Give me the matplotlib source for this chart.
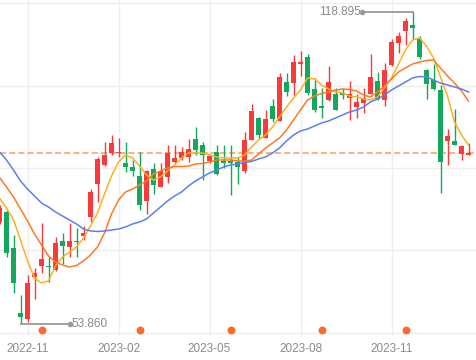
import numpy as np
import pandas as pd
from matplotlib import pyplot as plt

# weekly candles, the first one is the week of 2022-10-07
start_date = '2022-10-07'

opens = [75.11, 77.26, 69.63, 56.08, 54.83, 63.71, 65.94, 65.94, 65.10, 71.15,
         69.96, 71.09, 72.26, 76.22, 83.04, 87.00, 89.56, 89.44, 87.35, 86.64,
         84.70, 79.56, 86.10, 82.47, 84.56, 87.69, 88.39, 88.73, 92.36, 91.17,
         87.89, 89.77, 87.69, 87.77, 87.69, 85.75, 92.21, 96.73, 92.63, 99.24,
         96.23, 104.37, 104.10, 108.06, 109.45, 102.84, 99.30, 100.49, 101.86, 101.95,
         100.90, 99.19, 99.99, 101.80, 104.51, 100.55, 107.85, 112.50, 115.00, 116.19,
         113.21, 106.70, 104.72, 102.64, 92.07, 92.00, 89.27, 89.08]
closes = [78.03, 68.59, 62.46, 55.37, 62.33, 64.58, 67.34, 65.67, 70.80, 70.17,
          71.15, 70.94, 72.76, 81.43, 88.19, 89.08, 91.52, 89.77, 86.64, 85.75,
          78.66, 85.81, 82.83, 85.75, 89.44, 88.39, 89.77, 90.33, 90.17, 89.08,
          88.87, 85.12, 87.48, 87.48, 86.64, 92.21, 98.32, 93.15, 96.59, 96.53,
          105.28, 102.28, 108.37, 108.54, 101.95, 98.47, 98.82, 104.37, 98.47, 101.49,
          101.80, 100.20, 100.90, 105.41, 100.70, 106.80, 112.71, 113.90, 117.08, 115.50,
          109.45, 103.90, 102.78, 87.62, 93.04, 91.17, 90.96, 89.56]
highs = [78.66, 77.60, 72.40, 59.89, 64.06, 65.52, 74.97, 67.75, 71.92, 72.88,
         74.84, 73.80, 74.28, 82.00, 88.60, 91.86, 93.25, 92.56, 91.86, 88.04,
         89.77, 85.96, 87.48, 87.48, 91.17, 91.17, 90.81, 92.36, 94.98, 91.86,
         89.29, 91.17, 91.17, 91.17, 88.73, 93.88, 99.78, 97.07, 98.36, 100.70,
         106.24, 106.24, 109.93, 110.77, 110.08, 105.07, 103.05, 107.64, 103.00, 103.05,
         104.45, 101.90, 103.05, 110.04, 106.49, 108.27, 113.21, 114.79, 117.58, 118.895,
         113.90, 106.95, 108.06, 103.68, 94.40, 98.67, 91.17, 91.65]
lows = [74.70, 67.80, 60.37, 53.86, 54.33, 59.06, 64.42, 62.67, 64.96, 66.36,
        67.88, 67.88, 71.36, 75.18, 79.35, 86.79, 89.08, 88.73, 85.60, 84.70,
        77.62, 76.78, 80.95, 82.47, 83.18, 87.10, 88.04, 87.69, 89.08, 83.87,
        87.35, 84.91, 86.31, 80.74, 82.93, 85.27, 92.11, 92.42, 92.56, 95.86,
        96.17, 101.38, 101.49, 105.55, 101.59, 98.05, 96.73, 100.24, 98.36, 100.70,
        96.28, 96.80, 97.84, 101.80, 100.55, 99.30, 107.64, 110.41, 112.12, 113.21,
        109.04, 100.70, 102.64, 81.22, 87.00, 91.07, 88.04, 88.98]

ma5 = [80.12, 78.03, 75.53, 71.36, 66.98, 63.44, 62.39, 62.81, 65.94, 67.82,
       68.86, 69.90, 71.78, 74.28, 76.99, 80.95, 84.70, 87.62, 89.08, 88.46,
       86.79, 84.91, 83.87, 84.50, 85.75, 87.00, 88.46, 89.50, 89.50, 89.50,
       89.08, 88.67, 88.46, 88.46, 88.46, 89.08, 90.75, 92.21, 93.25, 94.92,
       97.01, 99.09, 100.97, 102.63, 105.14, 104.93, 103.68, 102.84, 102.22, 102.01,
       101.38, 101.18, 100.76, 100.55, 101.18, 103.05, 105.14, 108.06, 110.97, 113.06,
       113.48, 111.81, 109.31, 105.35, 101.38, 95.96, 93.25, 91.17]
ma10 = [84.39, 82.41, 80.33, 77.82, 75.32, 72.61, 70.32, 68.02, 66.77, 66.15,
        65.73, 66.04, 66.98, 68.23, 69.90, 72.82, 76.78, 79.70, 81.37, 81.99,
        82.83, 83.66, 85.12, 85.75, 86.37, 86.68, 86.68, 86.79, 87.21, 87.31,
        87.62, 88.04, 88.04, 88.04, 87.83, 87.83, 88.04, 89.29, 90.54, 91.58,
        92.63, 94.29, 96.38, 98.46, 100.55, 101.38, 101.91, 102.22, 102.63, 102.84,
        102.74, 102.43, 101.59, 101.18, 102.22, 103.47, 104.93, 106.39, 107.22, 108.06,
        108.47, 108.79, 108.89, 107.22, 105.55, 104.09, 102.43, 100.34]
ma20 = [89.71, 88.04, 85.95, 83.66, 81.99, 80.53, 79.07, 78.24, 77.20, 76.36,
        75.53, 74.70, 73.65, 73.24, 73.13, 73.24, 73.44, 73.65, 74.07, 74.70,
        75.11, 75.74, 76.99, 78.24, 79.49, 80.53, 81.37, 82.62, 83.66, 84.50,
        85.33, 85.95, 86.58, 87.00, 87.21, 87.52, 87.73, 88.25, 88.67, 89.50,
        90.54, 92.00, 93.25, 94.09, 94.50, 95.13, 95.75, 96.17, 96.80, 97.42,
        98.05, 98.46, 99.09, 100.13, 100.76, 101.59, 102.63, 103.47, 104.30, 105.14,
        105.45, 105.35, 104.72, 104.09, 103.68, 103.26, 102.84, 102.22]

# weeks that carry an event marker (orange dots along the bottom)
event_weeks = ['2022-11-18', '2023-02-24', '2023-05-26', '2023-08-25', '2023-11-17']

tick_months = ['2022-11', '2023-02', '2023-05', '2023-08', '2023-11']

RED = '#f93a3a'
GREEN = '#12a95c'

plt.rcParams['font.family'] = ['Liberation Sans', 'DejaVu Sans']

o = np.array(opens)
c = np.array(closes)
h = np.array(highs)
l = np.array(lows)
dates = pd.date_range(start_date, periods=len(o), freq='7D')
x = np.arange(len(o))

fig = plt.figure(figsize=(4.76, 3.6), dpi=100)
ax = fig.add_axes([0, 24 / 360, 1, 336 / 360])

# candles
colors = [RED if cc >= oo else GREEN for oo, cc in zip(o, c)]
ax.vlines(x, l, h, colors=colors, lw=1.0, zorder=3)
ax.bar(x, np.maximum(np.abs(c - o), 0.3), bottom=np.minimum(o, c),
       width=0.72, color=colors, zorder=4)

# moving averages
ax.plot(x, ma5, color='#ffb020', lw=1.1, zorder=5)
ax.plot(x, ma10, color='#ff7a26', lw=1.1, zorder=5)
ax.plot(x, ma20, color='#5b7ff2', lw=1.1, zorder=5)

# last price line
ax.axhline(c[-1], color='#ff9a5a', lw=1.1, ls=(0, (4, 2)), zorder=2)

# max / min markers
imax = int(np.argmax(h))
ax.plot([imax, imax - 7.2], [h[imax], h[imax]], color='#9a9a9a', lw=1.3, zorder=6)
ax.plot([imax - 7.2], [h[imax]], 'o', color='#9a9a9a', ms=3, zorder=6)
ax.text(imax - 7.45, h[imax], f'{h[imax]:.3f}', ha='right', va='center',
        fontsize=8.5, color='#8a8a8a')

imin = int(np.argmin(l))
ax.plot([imin, imin + 7.1], [l[imin], l[imin]], color='#9a9a9a', lw=1.3, zorder=6)
ax.plot([imin + 7.1], [l[imin]], 'o', color='#9a9a9a', ms=3, zorder=6)
ax.text(imin + 7.35, l[imin], f'{l[imin]:.3f}', ha='left', va='center',
        fontsize=8.5, color='#8a8a8a')

# event dots
event_idx = [dates.get_loc(pd.Timestamp(d)) for d in event_weeks]
ax.scatter(event_idx, [0.018] * len(event_idx), s=22, color='#ff6a2c',
           transform=ax.get_xaxis_transform(), zorder=6, clip_on=False)

# axes / grid
tick_idx = []
for m in tick_months:
    tick_idx.append(int(np.where(dates.strftime('%Y-%m') == m)[0][0]))
ax.set_xticks(tick_idx, tick_months)
ax.set_yticks(np.linspace(51.97, 120.77, 5))
ax.set_xlim(0.5 / 7, 476.5 / 7)
ax.set_ylim(51.34, 121.4)
ax.grid(True, color='#efefef', lw=1.0)
ax.set_axisbelow(True)
ax.tick_params(axis='x', length=0, pad=5, labelsize=8.5, labelcolor='#8a8a8a')
ax.tick_params(axis='y', left=False, labelleft=False)
for s in ax.spines.values():
    s.set_visible(False)

plt.savefig('out.png', dpi=100)
